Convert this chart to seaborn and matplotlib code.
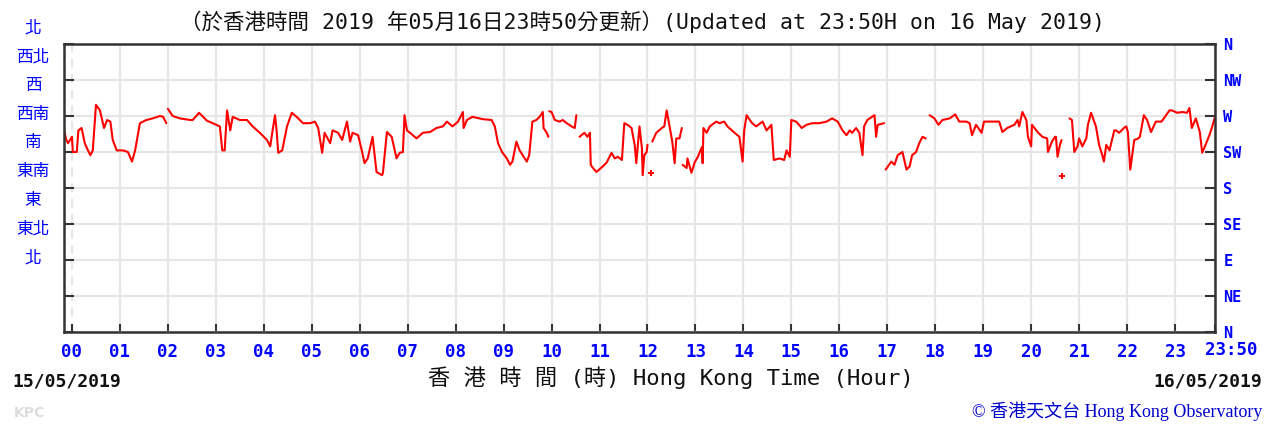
import pandas as pd
import seaborn as sns
import matplotlib.pyplot as plt

# =========================
# WIND DIRECTION, 24 HOURS
# =========================

# minutes after 00:00 on 16/05 (negative = last minutes of 15/05); None marks a break in the trace
minutes = [
    -10, -7, -5, 0, 1, 6, 8, 12, 16, 20, 23, 26, 30, 35, 40, 44, 48, 51, 56, 64,
    70, 75, 79, 85, 93, 101, 110, 114, 118, None,
    120, 126, 135, 148, 151, 159, 164, 169, 176, 185, 188, 191, 194, 198, 201, 210, 219, 226, 235, 244,
    248, 251, 254, 256, 258, 263, 269, 275, 281, 289, 298, 304, 308, 313, 316, 323, 326, 333, 338, 344,
    348, 351, 358, 363, 366, 370, 376, 381, 388, 389, 394, 400, 406, 410, 414, 416, 419, 423, 431, 439,
    448, 456, 464, 469, 476, 483, 489, 490, 494, 501, 514, 525, 529, 533, 538, 544, 548, 551, 556, 560,
    569, 572, 576, 581, 585, 589, 590, 594, 596, None,
    597, 600, 604, 610, 614, 619, 625, 629, 631, None,
    635, 641, 645, 648, 649, 651, 656, 663, 669, 675, 679, 683, 688, 691, 695, 700, 704, 706, 710, 713,
    714, 716, 719, 720, None,
    726, 731, 738, 741, 744, 748, 751, 754, 756, 760, 763, None,
    764, 769, 770, 775, 779, 783, 788, 789, 790, 794, 798, 806, 810, 816, 820, 829, 835, 839, 841, 844,
    848, 851, 856, 864, 869, 875, 878, 885, 891, 894, 898, 900, 906, 913, 919, 926, 935, 944, 951, 958,
    964, 969, 973, 976, 981, 985, 989, 991, 995, 1004, 1006, 1008, 1016, None,
    1018, 1025, 1029, 1033, 1039, 1044, 1048, 1051, 1056, 1060, 1064, 1068, None,
    1073, 1079, 1084, 1089, 1098, 1105, 1110, 1119, 1123, 1126, 1131, 1138, 1141, 1150, 1160, 1164, 1170, 1179, 1183, 1185,
    1189, 1194, 1196, 1200, 1201, 1208, 1214, 1220, 1221, 1226, 1230, 1231, 1233, 1236, 1238, None,
    1244, 1248, 1251, 1254, 1258, 1260, 1264, 1269, 1271, 1275, 1281, 1285, 1289, 1291, 1294, 1298, 1304, 1306, 1310, 1316,
    1319, 1321, 1324, 1329, 1334, 1336, 1341, 1345, 1350, 1356, 1363, 1366, 1373, 1376, 1383, 1389, 1395, 1398, 1401, 1406,
    1411, 1414, 1419, 1423, 1426, 1430,
]
direction = [
    252, 240, 236, 244, 225, 225, 252, 255, 236, 227, 221, 227, 284, 277, 255, 265, 263, 240, 227, 227,
    225, 213, 227, 261, 265, 267, 270, 269, 261, None,
    279, 270, 267, 265, 265, 274, 269, 264, 261, 257, 227, 227, 277, 252, 269, 265, 265, 257, 249, 240,
    232, 252, 271, 252, 224, 227, 257, 274, 269, 261, 261, 263, 255, 224, 249, 236, 252, 249, 240, 263,
    238, 249, 246, 225, 211, 217, 244, 200, 196, 199, 250, 244, 217, 224, 225, 271, 252, 249, 242, 249,
    250, 255, 257, 263, 257, 263, 275, 255, 265, 269, 266, 265, 257, 236, 225, 217, 209, 213, 238, 227,
    213, 221, 263, 265, 269, 275, 255, 249, 244, None,
    276, 275, 265, 263, 265, 261, 257, 255, 271, None,
    244, 249, 244, 249, 209, 206, 200, 206, 212, 224, 217, 219, 215, 261, 259, 255, 234, 211, 257, 230,
    196, 221, 225, 234, None,
    238, 249, 255, 257, 277, 255, 238, 211, 242, 242, 255, None,
    209, 205, 217, 199, 212, 219, 231, 211, 255, 249, 257, 263, 261, 263, 257, 249, 244, 213, 252, 271,
    265, 261, 257, 263, 252, 259, 215, 217, 215, 227, 219, 265, 263, 255, 259, 261, 261, 263, 267, 263,
    252, 246, 252, 249, 255, 249, 221, 257, 265, 271, 244, 259, 261, None,
    203, 213, 209, 221, 225, 203, 207, 221, 225, 236, 244, 242, None,
    271, 267, 259, 265, 267, 272, 263, 263, 261, 246, 259, 249, 263, 263, 263, 250, 255, 259, 265, 257,
    275, 265, 244, 232, 259, 250, 244, 242, 225, 238, 244, 244, 219, 234, 240, 257, None,
    267, 265, 225, 232, 242, 232, 242, 259, 274, 257, 234, 221, 213, 234, 227, 252, 252, 249, 255, 257,
    250, 203, 240, 242, 244, 271, 265, 250, 263, 263, 267, 277, 277, 274, 275, 274, 280, 255, 267, 250,
    224, 236, 246, 255, 269, 261,
]

# lone readings drawn as small crosses
spot_minutes = [724, 1239]
spot_direction = [199, 195]

hour_ticks = list(range(0, 1381, 60)) + [1430]
hour_labels = [f"{h:02d}" for h in range(24)] + [""]
end_label = "23:50"
compass_ticks = list(range(0, 361, 45))
compass_en = ["N", "NE", "E", "SE", "S", "SW", "W", "NW", "N"]
compass_zh = ["北", "西北", "西", "西南", "南", "東南", "東", "東北", "北"]  # top to bottom, as printed

# split into pieces at the breaks
seg, rows = 0, []
for m, d in zip(minutes, direction):
    if m is None:
        seg += 1
        continue
    rows.append((m, d, seg))
df = pd.DataFrame(rows, columns=["minute", "deg", "seg"])

sns.set_theme(style="white")
plt.rcParams["font.family"] = ["DejaVu Sans Mono", "Noto Sans CJK TC"]

W, H = 1272, 424
fig = plt.figure(figsize=(W / 100, H / 100), dpi=100)
ax = fig.add_axes([64 / W, (H - 332) / H, (1215 - 64) / W, 288 / H])

sns.lineplot(data=df, x="minute", y="deg", units="seg", estimator=None,
             color="#ff0000", lw=1.5, ax=ax, legend=False)
sns.scatterplot(x=spot_minutes, y=spot_direction, marker="+", color="#ff0000",
                s=24, linewidth=1.4, ax=ax, legend=False)

ax.set_xlim(-10, 1430)
ax.set_ylim(0, 360)
ax.set_xlabel("")
ax.set_ylabel("")

ax.set_xticks(hour_ticks)
ax.set_xticklabels(hour_labels, fontfamily="DejaVu Sans Mono", fontweight="bold",
                   color="#0000ff", fontsize=12.5)
# the closing time label sits a little right of the last tick
ax.annotate(end_label, xy=(1430, 0), xycoords=("data", "axes fraction"),
            xytext=(16, -18), textcoords="offset pixels", ha="center", va="center",
            fontfamily="DejaVu Sans Mono", fontweight="bold", color="#0000ff",
            fontsize=12.5, annotation_clip=False)

ax.set_yticks(compass_ticks)
ax.set_yticklabels(compass_en, fontfamily="DejaVu Sans Mono", fontweight="bold",
                   color="#0000ff", fontsize=11)

ax.tick_params(axis="x", direction="in", length=6, width=1.5, color="#333333",
               bottom=True, top=False, pad=8)
ax.tick_params(axis="y", direction="in", length=7, width=1.5, color="#333333",
               left=True, right=True, labelleft=False, labelright=True, pad=6)

ax.grid(True, color="#e6e6e6", lw=1.6)
ax.xaxis.get_gridlines()[0].set_linestyle((0, (4, 3)))
ax.set_axisbelow(True)
for s in ax.spines.values():
    s.set_visible(True)
    s.set_color("#333333")
    s.set_linewidth(1.8)

# left-hand Chinese compass points
for i, lab in enumerate(compass_zh):
    y = 28 + i * 28.7
    fig.text(33 / W, 1 - y / H, lab, ha="center", va="center", color="#0000ff",
             fontsize=12, family="Noto Sans CJK TC")

fig.text(642 / W, 1 - 22 / H,
         "（於香港時間 2019 年05月16日23時50分更新）(Updated at 23:50H on 16 May 2019)",
         ha="center", va="center", fontsize=15.5, color="#111111")
fig.text(671 / W, 1 - 378 / H, "香 港 時 間 (時) Hong Kong Time (Hour)",
         ha="center", va="center", fontsize=16, color="#111111")
fig.text(12 / W, 1 - 381 / H, "15/05/2019", ha="left", va="center",
         fontsize=13, fontweight="bold", color="#111111")
fig.text(1262 / W, 1 - 381 / H, "16/05/2019", ha="right", va="center",
         fontsize=13, fontweight="bold", color="#111111")
fig.text(14 / W, 1 - 413 / H, "KPC", ha="left", va="center", fontsize=10,
         fontweight="bold", color="#dddddd", family="DejaVu Sans")
fig.text(1262 / W, 1 - 411 / H, "© 香港天文台 Hong Kong Observatory", ha="right", va="center",
         fontsize=13, color="#0000cc", family=["Liberation Serif", "Noto Sans CJK TC"])

fig.savefig("out.png", dpi=100)
